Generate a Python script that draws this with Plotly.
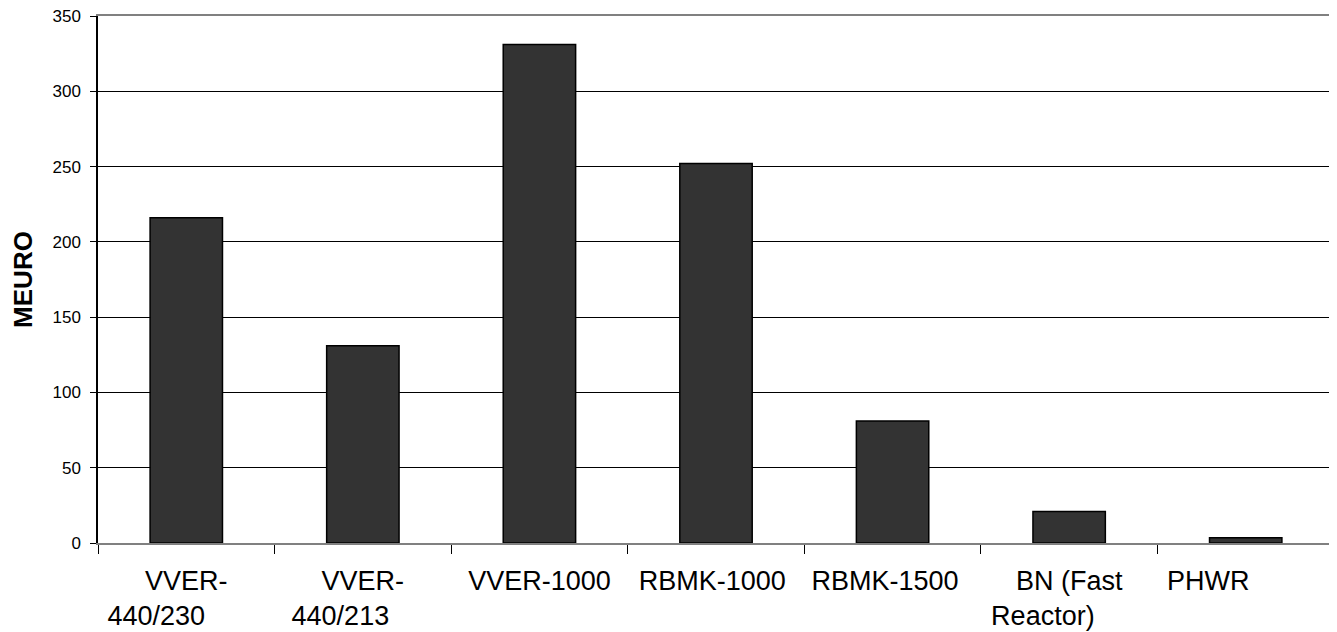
import plotly.graph_objects as go

NB = "\u00a0"
categories = ["VVER-440/230", "VVER-440/213", "VVER-1000", "RBMK-1000",
              "RBMK-1500", "BN (Fast Reactor)", "PHWR"]
tick_labels = ["VVER-<br>440/230" + NB * 8,
               "VVER-<br>440/213" + NB * 6,
               "VVER-1000",
               "RBMK-1000" + NB,
               "RBMK-1500" + NB * 2,
               "BN (Fast<br>Reactor)" + NB * 7,
               "PHWR" + NB * 10]
values = [216, 131, 331, 252, 81, 21, 3.5]
y_title = "MEURO"

fig = go.Figure(go.Bar(
    x=categories, y=values,
    marker=dict(color="#333333", line=dict(color="#000000", width=1.5)),
))

# page body has an 8px margin, so the figure is sized 8px smaller
fig.update_layout(
    width=1329, height=624,
    margin=dict(l=90, r=3, t=8, b=89),
    paper_bgcolor="white", plot_bgcolor="white",
    bargap=0.59, showlegend=False,
    font=dict(family="Liberation Sans, Arial, sans-serif", color="black"),
    shapes=[dict(type="line", xref="paper", yref="paper", x0=1, x1=1, y0=0, y1=1,
                 line=dict(color="#808080", width=2))],
)
fig.update_xaxes(
    type="category", tickmode="array", tickvals=categories, ticktext=tick_labels,
    tickson="boundaries", ticks="outside", ticklen=9, tickcolor="#000000",
    showline=True, linecolor="#808080", linewidth=1.5, mirror=True,
    showgrid=False, tickfont=dict(size=27), ticklabelstandoff=13,
    automargin=False, ticklabeloverflow="allow",
)
fig.update_yaxes(
    range=[0, 350], dtick=50, ticks="outside", ticklen=6, tickcolor="#000000",
    showline=True, linecolor="#000000", linewidth=1.5,
    showgrid=True, gridcolor="#000000", gridwidth=1, zeroline=False,
    tickfont=dict(size=17), ticklabelstandoff=6, automargin=False,
    ticklabeloverflow="allow",
    title=dict(text="<b>" + y_title + "</b>",
               font=dict(size=26, family="Liberation Sans, Arial, sans-serif"),
               standoff=18),
)

fig.write_html("out.html")
